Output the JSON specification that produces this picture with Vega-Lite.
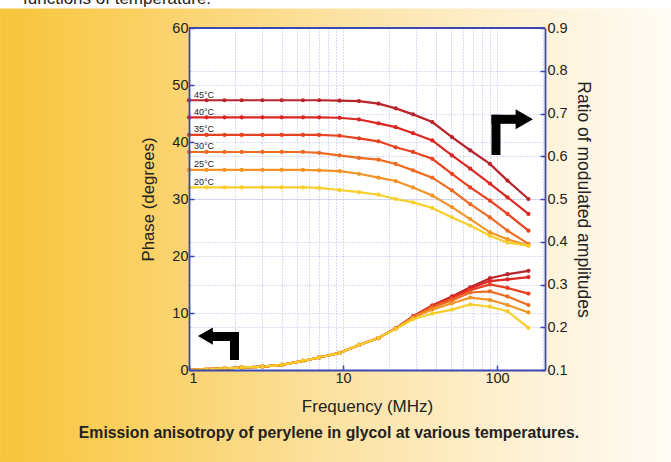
{
  "$schema": "https://vega.github.io/schema/vega-lite/v6.json",
  "width": 356,
  "height": 342,
  "autosize": {"type": "none"},
  "padding": {"left": 189, "top": 28, "right": 126, "bottom": 92},
  "background": "white",
  "title": {
    "text": "Emission anisotropy of perylene in glycol at various temperatures.",
    "orient": "bottom",
    "frame": "group",
    "anchor": "middle",
    "baseline": "alphabetic",
    "offset": -25,
    "dx": -38,
    "font": "Liberation Sans",
    "fontSize": 15.8,
    "fontWeight": "bold",
    "color": "#222222"
  },
  "datasets": {
    "d": [
      {"f": 1, "temp": "45°C", "ratio": 0.731, "phase": 0},
      {"f": 1.3, "temp": "45°C", "ratio": 0.731, "phase": 0.15},
      {"f": 1.7, "temp": "45°C", "ratio": 0.731, "phase": 0.28},
      {"f": 2.2, "temp": "45°C", "ratio": 0.731, "phase": 0.4},
      {"f": 3, "temp": "45°C", "ratio": 0.731, "phase": 0.6},
      {"f": 4, "temp": "45°C", "ratio": 0.731, "phase": 0.9},
      {"f": 5.5, "temp": "45°C", "ratio": 0.731, "phase": 1.6},
      {"f": 7, "temp": "45°C", "ratio": 0.731, "phase": 2.2},
      {"f": 9.5, "temp": "45°C", "ratio": 0.730, "phase": 3.0},
      {"f": 12.7, "temp": "45°C", "ratio": 0.729, "phase": 4.4},
      {"f": 17, "temp": "45°C", "ratio": 0.723, "phase": 5.6},
      {"f": 22, "temp": "45°C", "ratio": 0.712, "phase": 7.3},
      {"f": 28.5, "temp": "45°C", "ratio": 0.698, "phase": 9.4},
      {"f": 38, "temp": "45°C", "ratio": 0.680, "phase": 11.3},
      {"f": 51, "temp": "45°C", "ratio": 0.645, "phase": 12.9},
      {"f": 67, "temp": "45°C", "ratio": 0.614, "phase": 14.5},
      {"f": 90, "temp": "45°C", "ratio": 0.582, "phase": 16.1},
      {"f": 117, "temp": "45°C", "ratio": 0.543, "phase": 16.8},
      {"f": 160, "temp": "45°C", "ratio": 0.500, "phase": 17.4},

      {"f": 1, "temp": "40°C", "ratio": 0.691, "phase": 0},
      {"f": 1.3, "temp": "40°C", "ratio": 0.691, "phase": 0.15},
      {"f": 1.7, "temp": "40°C", "ratio": 0.691, "phase": 0.28},
      {"f": 2.2, "temp": "40°C", "ratio": 0.691, "phase": 0.4},
      {"f": 3, "temp": "40°C", "ratio": 0.691, "phase": 0.6},
      {"f": 4, "temp": "40°C", "ratio": 0.691, "phase": 0.9},
      {"f": 5.5, "temp": "40°C", "ratio": 0.691, "phase": 1.6},
      {"f": 7, "temp": "40°C", "ratio": 0.691, "phase": 2.2},
      {"f": 9.5, "temp": "40°C", "ratio": 0.690, "phase": 3.0},
      {"f": 12.7, "temp": "40°C", "ratio": 0.686, "phase": 4.4},
      {"f": 17, "temp": "40°C", "ratio": 0.677, "phase": 5.6},
      {"f": 22, "temp": "40°C", "ratio": 0.668, "phase": 7.3},
      {"f": 28.5, "temp": "40°C", "ratio": 0.654, "phase": 9.4},
      {"f": 38, "temp": "40°C", "ratio": 0.637, "phase": 11.3},
      {"f": 51, "temp": "40°C", "ratio": 0.602, "phase": 12.8},
      {"f": 67, "temp": "40°C", "ratio": 0.571, "phase": 14.3},
      {"f": 90, "temp": "40°C", "ratio": 0.536, "phase": 15.6},
      {"f": 117, "temp": "40°C", "ratio": 0.504, "phase": 15.9},
      {"f": 160, "temp": "40°C", "ratio": 0.465, "phase": 16.3},

      {"f": 1, "temp": "35°C", "ratio": 0.650, "phase": 0},
      {"f": 1.3, "temp": "35°C", "ratio": 0.650, "phase": 0.15},
      {"f": 1.7, "temp": "35°C", "ratio": 0.650, "phase": 0.28},
      {"f": 2.2, "temp": "35°C", "ratio": 0.650, "phase": 0.4},
      {"f": 3, "temp": "35°C", "ratio": 0.650, "phase": 0.6},
      {"f": 4, "temp": "35°C", "ratio": 0.650, "phase": 0.9},
      {"f": 5.5, "temp": "35°C", "ratio": 0.650, "phase": 1.6},
      {"f": 7, "temp": "35°C", "ratio": 0.650, "phase": 2.2},
      {"f": 9.5, "temp": "35°C", "ratio": 0.648, "phase": 3.0},
      {"f": 12.7, "temp": "35°C", "ratio": 0.642, "phase": 4.4},
      {"f": 17, "temp": "35°C", "ratio": 0.635, "phase": 5.6},
      {"f": 22, "temp": "35°C", "ratio": 0.621, "phase": 7.3},
      {"f": 28.5, "temp": "35°C", "ratio": 0.610, "phase": 9.3},
      {"f": 38, "temp": "35°C", "ratio": 0.594, "phase": 11.2},
      {"f": 51, "temp": "35°C", "ratio": 0.559, "phase": 12.6},
      {"f": 67, "temp": "35°C", "ratio": 0.527, "phase": 14.0},
      {"f": 90, "temp": "35°C", "ratio": 0.496, "phase": 15.0},
      {"f": 117, "temp": "35°C", "ratio": 0.465, "phase": 14.4},
      {"f": 160, "temp": "35°C", "ratio": 0.426, "phase": 13.4},

      {"f": 1, "temp": "30°C", "ratio": 0.610, "phase": 0},
      {"f": 1.3, "temp": "30°C", "ratio": 0.610, "phase": 0.15},
      {"f": 1.7, "temp": "30°C", "ratio": 0.610, "phase": 0.28},
      {"f": 2.2, "temp": "30°C", "ratio": 0.610, "phase": 0.4},
      {"f": 3, "temp": "30°C", "ratio": 0.610, "phase": 0.6},
      {"f": 4, "temp": "30°C", "ratio": 0.610, "phase": 0.9},
      {"f": 5.5, "temp": "30°C", "ratio": 0.610, "phase": 1.6},
      {"f": 7, "temp": "30°C", "ratio": 0.608, "phase": 2.2},
      {"f": 9.5, "temp": "30°C", "ratio": 0.602, "phase": 3.0},
      {"f": 12.7, "temp": "30°C", "ratio": 0.596, "phase": 4.4},
      {"f": 17, "temp": "30°C", "ratio": 0.592, "phase": 5.6},
      {"f": 22, "temp": "30°C", "ratio": 0.582, "phase": 7.3},
      {"f": 28.5, "temp": "30°C", "ratio": 0.567, "phase": 9.3},
      {"f": 38, "temp": "30°C", "ratio": 0.550, "phase": 11.0},
      {"f": 51, "temp": "30°C", "ratio": 0.520, "phase": 12.2},
      {"f": 67, "temp": "30°C", "ratio": 0.488, "phase": 13.6},
      {"f": 90, "temp": "30°C", "ratio": 0.457, "phase": 13.8},
      {"f": 117, "temp": "30°C", "ratio": 0.426, "phase": 12.9},
      {"f": 160, "temp": "30°C", "ratio": 0.395, "phase": 11.4},

      {"f": 1, "temp": "25°C", "ratio": 0.568, "phase": 0},
      {"f": 1.3, "temp": "25°C", "ratio": 0.568, "phase": 0.15},
      {"f": 1.7, "temp": "25°C", "ratio": 0.568, "phase": 0.28},
      {"f": 2.2, "temp": "25°C", "ratio": 0.568, "phase": 0.4},
      {"f": 3, "temp": "25°C", "ratio": 0.568, "phase": 0.6},
      {"f": 4, "temp": "25°C", "ratio": 0.568, "phase": 0.9},
      {"f": 5.5, "temp": "25°C", "ratio": 0.568, "phase": 1.6},
      {"f": 7, "temp": "25°C", "ratio": 0.567, "phase": 2.2},
      {"f": 9.5, "temp": "25°C", "ratio": 0.565, "phase": 3.0},
      {"f": 12.7, "temp": "25°C", "ratio": 0.559, "phase": 4.4},
      {"f": 17, "temp": "25°C", "ratio": 0.550, "phase": 5.6},
      {"f": 22, "temp": "25°C", "ratio": 0.542, "phase": 7.3},
      {"f": 28.5, "temp": "25°C", "ratio": 0.527, "phase": 9.2},
      {"f": 38, "temp": "25°C", "ratio": 0.508, "phase": 10.6},
      {"f": 51, "temp": "25°C", "ratio": 0.481, "phase": 11.7},
      {"f": 67, "temp": "25°C", "ratio": 0.453, "phase": 12.7},
      {"f": 90, "temp": "25°C", "ratio": 0.422, "phase": 12.3},
      {"f": 117, "temp": "25°C", "ratio": 0.406, "phase": 11.4},
      {"f": 160, "temp": "25°C", "ratio": 0.391, "phase": 10.1},

      {"f": 1, "temp": "20°C", "ratio": 0.527, "phase": 0},
      {"f": 1.3, "temp": "20°C", "ratio": 0.527, "phase": 0.15},
      {"f": 1.7, "temp": "20°C", "ratio": 0.527, "phase": 0.28},
      {"f": 2.2, "temp": "20°C", "ratio": 0.527, "phase": 0.4},
      {"f": 3, "temp": "20°C", "ratio": 0.527, "phase": 0.6},
      {"f": 4, "temp": "20°C", "ratio": 0.527, "phase": 0.9},
      {"f": 5.5, "temp": "20°C", "ratio": 0.527, "phase": 1.6},
      {"f": 7, "temp": "20°C", "ratio": 0.526, "phase": 2.2},
      {"f": 9.5, "temp": "20°C", "ratio": 0.521, "phase": 3.0},
      {"f": 12.7, "temp": "20°C", "ratio": 0.516, "phase": 4.4},
      {"f": 17, "temp": "20°C", "ratio": 0.510, "phase": 5.6},
      {"f": 22, "temp": "20°C", "ratio": 0.500, "phase": 7.2},
      {"f": 28.5, "temp": "20°C", "ratio": 0.492, "phase": 8.9},
      {"f": 38, "temp": "20°C", "ratio": 0.479, "phase": 9.9},
      {"f": 51, "temp": "20°C", "ratio": 0.457, "phase": 10.6},
      {"f": 67, "temp": "20°C", "ratio": 0.438, "phase": 11.5},
      {"f": 90, "temp": "20°C", "ratio": 0.414, "phase": 11.1},
      {"f": 117, "temp": "20°C", "ratio": 0.398, "phase": 10.3},
      {"f": 160, "temp": "20°C", "ratio": 0.391, "phase": 7.4}
    ]
  },
  "layer": [
    {
      "layer": [
        {
          "data": {"name": "d"},
          "mark": {"type": "line", "strokeWidth": 2.2, "point": {"filled": true, "size": 18}},
          "encoding": {
            "x": {
              "field": "f", "type": "quantitative",
              "scale": {"type": "log", "domain": [1, 205], "nice": false},
              "axis": {
                "orient": "bottom",
                "title": "Frequency (MHz)",
                "values": [1, 10, 100],
                "grid": false,
                "tickSize": -5,
                "tickColor": "#3a48b0",
                "tickWidth": 1.5,
                "domainColor": "#3a48b0",
                "domainWidth": 1.8,
                "labelPadding": 6,
                "labelFont": "Liberation Sans",
                "labelFontSize": 14.5,
                "labelColor": "#222222",
                "titleFont": "Liberation Sans",
                "titleFontSize": 17,
                "titleFontWeight": "normal",
                "titleColor": "#222222",
                "titlePadding": 14,
                "zindex": 1
              }
            },
            "y": {
              "field": "phase", "type": "quantitative",
              "scale": {"domain": [0, 60], "nice": false},
              "axis": {
                "orient": "left",
                "values": [10, 20, 30, 40, 50],
                "grid": true,
                "gridColor": "#b4b8e4",
                "gridDash": [1, 2],
                "labels": false,
                "ticks": false,
                "domain": false,
                "title": null,
                "zindex": 0
              }
            },
            "color": {
              "field": "temp", "type": "nominal", "legend": null,
              "scale": {
                "domain": ["20°C", "25°C", "30°C", "35°C", "40°C", "45°C"],
                "range": ["#f6cf2c", "#f39427", "#ee6b22", "#e8411f", "#dc2623", "#b9232a"]
              }
            },
            "detail": {"field": "temp"}
          }
        },
        {
          "layer": [
            {
              "data": {"values": [{}]},
              "mark": {
                "type": "rect",
                "fill": {
                  "gradient": "linear",
                  "x1": 0, "y1": 0, "x2": 1, "y2": 0,
                  "stops": [
                    {"offset": 0, "color": "#F8C43A"},
                    {"offset": 0.2, "color": "#FAD061"},
                    {"offset": 0.5, "color": "#FCE2A2"},
                    {"offset": 0.8, "color": "#FEF2D8"},
                    {"offset": 1, "color": "#FFFCF5"}
                  ]
                }
              },
              "encoding": {
                "x": {"datum": 0.0593, "type": "quantitative", "scale": {"type": "log", "domain": [1, 205], "nice": false}},
                "x2": {"datum": 1350},
                "y": {
                  "datum": 60, "type": "quantitative",
                  "scale": {"domain": [0, 60], "nice": false},
                  "axis": {
                    "orient": "left",
                    "title": "Phase (degrees)",
                    "values": [0, 10, 20, 30, 40, 50, 60],
                    "grid": false,
                    "tickSize": -5,
                    "tickColor": "#3a48b0",
                    "tickWidth": 1.5,
                    "domainColor": "#3a48b0",
                    "domainWidth": 1.8,
                    "labelPadding": 6,
                    "labelFont": "Liberation Sans",
                    "labelFontSize": 14.5,
                    "labelColor": "#222222",
                    "titleFont": "Liberation Sans",
                    "titleFontSize": 16.8,
                    "titleFontWeight": "normal",
                    "titleColor": "#222222",
                    "titlePadding": 14,
                    "zindex": 1
                  }
                },
                "y2": {"datum": 63.4}
              }
            },
            {
              "data": {"values": [{}]},
              "mark": {
                "type": "rect",
                "fill": {
                  "gradient": "linear",
                  "x1": 0, "y1": 0, "x2": 1, "y2": 0,
                  "stops": [
                    {"offset": 0, "color": "#F8C43A"},
                    {"offset": 0.2, "color": "#FAD061"},
                    {"offset": 0.5, "color": "#FCE2A2"},
                    {"offset": 0.8, "color": "#FEF2D8"},
                    {"offset": 1, "color": "#FFFCF5"}
                  ]
                }
              },
              "encoding": {
                "x": {"datum": 0.0593, "type": "quantitative", "scale": {"type": "log", "domain": [1, 205], "nice": false}},
                "x2": {"datum": 1350},
                "y": {"datum": -16.3, "type": "quantitative"},
                "y2": {"datum": 0}
              }
            },
            {
              "data": {"values": [{}]},
              "mark": {
                "type": "rect",
                "fill": {
                  "gradient": "linear",
                  "x1": 0, "y1": 0, "x2": 1, "y2": 0,
                  "stops": [
                    {"offset": 0, "color": "#F8C43A"},
                    {"offset": 0.71, "color": "#FAD061"},
                    {"offset": 1, "color": "#FBD573"}
                  ]
                }
              },
              "encoding": {
                "x": {"datum": 0.0593, "type": "quantitative", "scale": {"type": "log", "domain": [1, 205], "nice": false}},
                "x2": {"datum": 1},
                "y": {"datum": 0, "type": "quantitative"},
                "y2": {"datum": 60}
              }
            },
            {
              "data": {"values": [{}]},
              "mark": {
                "type": "rect",
                "fill": {
                  "gradient": "linear",
                  "x1": 0, "y1": 0, "x2": 1, "y2": 0,
                  "stops": [
                    {"offset": 0, "color": "#FEF3DA"},
                    {"offset": 1, "color": "#FFFCF5"}
                  ]
                }
              },
              "encoding": {
                "x": {"datum": 205, "type": "quantitative", "scale": {"type": "log", "domain": [1, 205], "nice": false}},
                "x2": {"datum": 1350},
                "y": {"datum": 0, "type": "quantitative"},
                "y2": {"datum": 60}
              }
            },
            {
              "data": {"values": [{}]},
              "mark": {"type": "rule", "color": "#3a48b0", "strokeWidth": 1.8},
              "encoding": {
                "x": {"datum": 1, "type": "quantitative", "scale": {"type": "log", "domain": [1, 205], "nice": false}},
                "x2": {"datum": 205},
                "y": {"datum": 60, "type": "quantitative"}
              }
            },
            {
              "data": {"values": [{}]},
              "mark": {"type": "rule", "color": "black", "strokeWidth": 9, "strokeCap": "butt"},
              "encoding": {
                "x": {"datum": 1.41, "type": "quantitative", "scale": {"type": "log", "domain": [1, 205], "nice": false}},
                "x2": {"datum": 2.112},
                "y": {"datum": 5.88, "type": "quantitative"}
              }
            },
            {
              "data": {"values": [{}]},
              "mark": {"type": "rule", "color": "black", "strokeWidth": 9, "strokeCap": "butt"},
              "encoding": {
                "x": {"datum": 1.975, "type": "quantitative", "scale": {"type": "log", "domain": [1, 205], "nice": false}},
                "y": {"datum": 6.67, "type": "quantitative"},
                "y2": {"datum": 1.75}
              }
            },
            {
              "data": {"values": [{}]},
              "mark": {"type": "point", "shape": "triangle-left", "size": 300, "filled": true, "color": "black", "opacity": 1},
              "encoding": {
                "x": {"datum": 1.278, "type": "quantitative", "scale": {"type": "log", "domain": [1, 205], "nice": false}},
                "y": {"datum": 5.95, "type": "quantitative"}
              }
            },
            {
              "data": {"values": [{}]},
              "mark": {"type": "rule", "color": "black", "strokeWidth": 9, "strokeCap": "butt"},
              "encoding": {
                "x": {"datum": 92.1, "type": "quantitative", "scale": {"type": "log", "domain": [1, 205], "nice": false}},
                "x2": {"datum": 134.9},
                "y": {"datum": 43.98, "type": "quantitative"}
              }
            },
            {
              "data": {"values": [{}]},
              "mark": {"type": "rule", "color": "black", "strokeWidth": 9, "strokeCap": "butt"},
              "encoding": {
                "x": {"datum": 98.5, "type": "quantitative", "scale": {"type": "log", "domain": [1, 205], "nice": false}},
                "y": {"datum": 44.77, "type": "quantitative"},
                "y2": {"datum": 37.72}
              }
            },
            {
              "data": {"values": [{}]},
              "mark": {"type": "point", "shape": "triangle-right", "size": 400, "filled": true, "color": "black", "opacity": 1},
              "encoding": {
                "x": {"datum": 150.4, "type": "quantitative", "scale": {"type": "log", "domain": [1, 205], "nice": false}},
                "y": {"datum": 44.0, "type": "quantitative"}
              }
            },
            {
              "data": {"values": [{}]},
              "mark": {"type": "text", "text": "functions of temperature.", "font": "Liberation Sans", "fontSize": 17, "align": "left", "baseline": "alphabetic", "color": "#222222"},
              "encoding": {
                "x": {"datum": 0.0836, "type": "quantitative", "scale": {"type": "log", "domain": [1, 205], "nice": false}},
                "y": {"datum": 64.2, "type": "quantitative"}
              }
            }
          ]
        }
      ],
      "resolve": {"axis": {"y": "independent"}}
    },
    {
      "layer": [
        {
          "data": {"name": "d"},
          "mark": {"type": "line", "strokeWidth": 2.2, "point": {"filled": true, "size": 18}},
          "encoding": {
            "x": {
              "field": "f", "type": "quantitative",
              "scale": {"type": "log", "domain": [1, 205], "nice": false},
              "axis": {
                "orient": "bottom",
                "values": [2, 3, 4, 5, 6, 7, 8, 9, 10, 20, 30, 40, 50, 60, 70, 80, 90, 100, 200],
                "grid": true,
                "gridColor": "#b4b8e4",
                "gridDash": [1, 2],
                "labels": false,
                "ticks": false,
                "domain": false,
                "title": null,
                "zindex": 0
              }
            },
            "y": {
              "field": "ratio", "type": "quantitative",
              "scale": {"domain": [0.1, 0.9], "nice": false, "zero": false},
              "axis": {
                "orient": "right",
                "values": [0.2, 0.3, 0.4, 0.5, 0.6, 0.7, 0.8],
                "grid": true,
                "gridColor": "#b4b8e4",
                "gridDash": [1, 2],
                "labels": false,
                "ticks": false,
                "domain": false,
                "title": null,
                "zindex": 0
              }
            },
            "color": {"field": "temp", "type": "nominal", "legend": null},
            "detail": {"field": "temp"}
          }
        },
        {
          "data": {"name": "d"},
          "transform": [{"filter": "datum.f == 1"}],
          "mark": {"type": "text", "font": "Liberation Sans", "fontSize": 9, "align": "left", "baseline": "alphabetic", "dx": 5, "dy": -2.5, "color": "#222222"},
          "encoding": {
            "x": {"field": "f", "type": "quantitative", "scale": {"type": "log", "domain": [1, 205], "nice": false}},
            "y": {
              "field": "ratio", "type": "quantitative",
              "scale": {"domain": [0.1, 0.9], "nice": false, "zero": false},
              "axis": {
                "orient": "right",
                "title": "Ratio of modulated amplitudes",
                "values": [0.1, 0.2, 0.3, 0.4, 0.5, 0.6, 0.7, 0.8, 0.9],
                "format": ".1f",
                "grid": false,
                "tickSize": -5,
                "tickColor": "#3a48b0",
                "tickWidth": 1.5,
                "domainColor": "#3a48b0",
                "domainWidth": 1.8,
                "labelPadding": 7,
                "labelFont": "Liberation Sans",
                "labelFontSize": 14.5,
                "labelColor": "#222222",
                "titleFont": "Liberation Sans",
                "titleFontSize": 17.5,
                "titleFontWeight": "normal",
                "titleColor": "#222222",
                "titlePadding": 6,
                "zindex": 1
              }
            },
            "text": {"field": "temp"}
          }
        }
      ],
      "resolve": {"axis": {"y": "independent"}}
    }
  ],
  "resolve": {"scale": {"y": "independent"}, "axis": {"x": "independent"}},
  "config": {"view": {"stroke": null, "fill": "white"}, "font": "Liberation Sans"}
}
